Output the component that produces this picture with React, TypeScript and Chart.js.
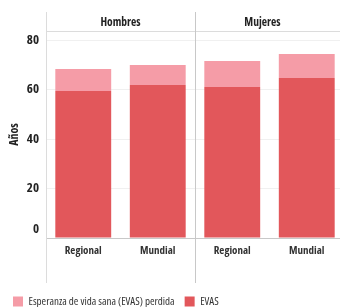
import React, { useEffect, useRef } from "react";
import { Chart, registerables } from "chart.js";

Chart.register(...registerables);

const categories = ["Regional", "Mundial", "Regional", "Mundial"];
const facets = ["Hombres", "Mujeres"];
const evas = [59.4, 61.8, 61.0, 64.6];
const evasPerdida = [8.9, 8.1, 10.5, 9.7];
const yTicks = [0, 20, 40, 60, 80];
const yTitle = "Años";
const seriesNames = ["EVAS", "Esperanza de vida sana (EVAS) perdida"];

const FONT = "'Open Sans', 'Roboto', sans-serif";
const RED = "#E2575B";
const PINK = "#F59CA7";

const facetPlugin = {
  id: "facetPlugin",
  afterDraw(chart: any) {
    const { ctx, chartArea } = chart;
    const x = chart.scales.x;
    const top = 12;
    const bottom = 283;
    ctx.save();
    ctx.strokeStyle = "#dcdcdc";
    ctx.lineWidth = 1;
    ctx.beginPath();
    ctx.moveTo(chartArea.left + 0.5, top);
    ctx.lineTo(chartArea.left + 0.5, bottom);
    ctx.stroke();
    ctx.beginPath();
    ctx.moveTo(chartArea.left, chartArea.top + 0.5);
    ctx.lineTo(chartArea.right, chartArea.top + 0.5);
    ctx.stroke();
    const div = Math.round((x.getPixelForValue(1) + x.getPixelForValue(2)) / 2);
    ctx.strokeStyle = "#c8c8c8";
    ctx.beginPath();
    ctx.moveTo(div + 0.5, top);
    ctx.lineTo(div + 0.5, bottom);
    ctx.stroke();
    ctx.fillStyle = "#222";
    ctx.font = "condensed bold 11.5px " + FONT;
    ctx.textAlign = "center";
    ctx.textBaseline = "middle";
    const hy = (top + chartArea.top) / 2 + 1;
    ctx.fillText(facets[0], (chartArea.left + div) / 2, hy);
    ctx.fillText(facets[1], (div + 330) / 2, hy);
    ctx.restore();
  },
};

export default function App() {
  const ref = useRef<HTMLCanvasElement>(null);
  useEffect(() => {
    if (!ref.current) return;
    const chart = new Chart(ref.current, {
      type: "bar",
      data: {
        labels: categories,
        datasets: [
          {
            label: seriesNames[0],
            data: evas,
            backgroundColor: RED,
            barPercentage: 0.75,
            categoryPercentage: 1,
          },
          {
            label: seriesNames[1],
            data: evasPerdida,
            backgroundColor: PINK,
            barPercentage: 0.75,
            categoryPercentage: 1,
          },
        ],
      },
      options: {
        responsive: false,
        animation: false,
        devicePixelRatio: 1,
        layout: { padding: { top: 31, left: 3, right: 0, bottom: 0 } },
        plugins: {
          tooltip: { enabled: false },
          legend: {
            position: "bottom",
            align: "start",
            reverse: true,
            labels: {
              boxWidth: 10,
              boxHeight: 10,
              padding: 10,
              color: "#333",
              font: { family: FONT, size: 11, weight: "condensed normal" },
            },
          },
        },
        scales: {
          x: {
            stacked: true,
            grid: { display: false, drawTicks: false },
            border: { display: true, color: "#c8c8c8" },
            ticks: {
              color: "#333",
              padding: 6,
              font: { family: FONT, size: 11, weight: "condensed bold" },
            },
            afterFit: (s: any) => {
              s.height = 48;
            },
          },
          y: {
            stacked: true,
            min: 0,
            max: 83.64,
            afterBuildTicks: (s: any) => {
              s.ticks = yTicks.map((v) => ({ value: v }));
            },
            grid: { color: "#f0f0f0", drawTicks: false },
            border: { display: false },
            ticks: {
              includeBounds: false,
              padding: 7,
              color: "#222",
              font: { family: FONT, size: 13, weight: "condensed bold", lineHeight: 1.3 },
              callback: (v: any) => (v === 0 ? ["0", ""] : String(v)),
            },
            title: {
              display: true,
              text: yTitle,
              color: "#222",
              font: { family: FONT, size: 12, weight: "condensed bold" },
              padding: { top: 4, bottom: 0 },
            },
            afterFit: (s: any) => {
              s.width = 43;
            },
          },
        },
      },
      plugins: [facetPlugin],
    } as any);
    return () => chart.destroy();
  }, []);
  return (
    <div
      style={{
        position: "fixed",
        left: 0,
        top: 0,
        width: 340,
        height: 307,
        overflow: "hidden",
        background: "#fff",
      }}
    >
      <canvas ref={ref} width={344} height={317} style={{ width: 344, height: 317, display: "block" }} />
    </div>
  );
}
